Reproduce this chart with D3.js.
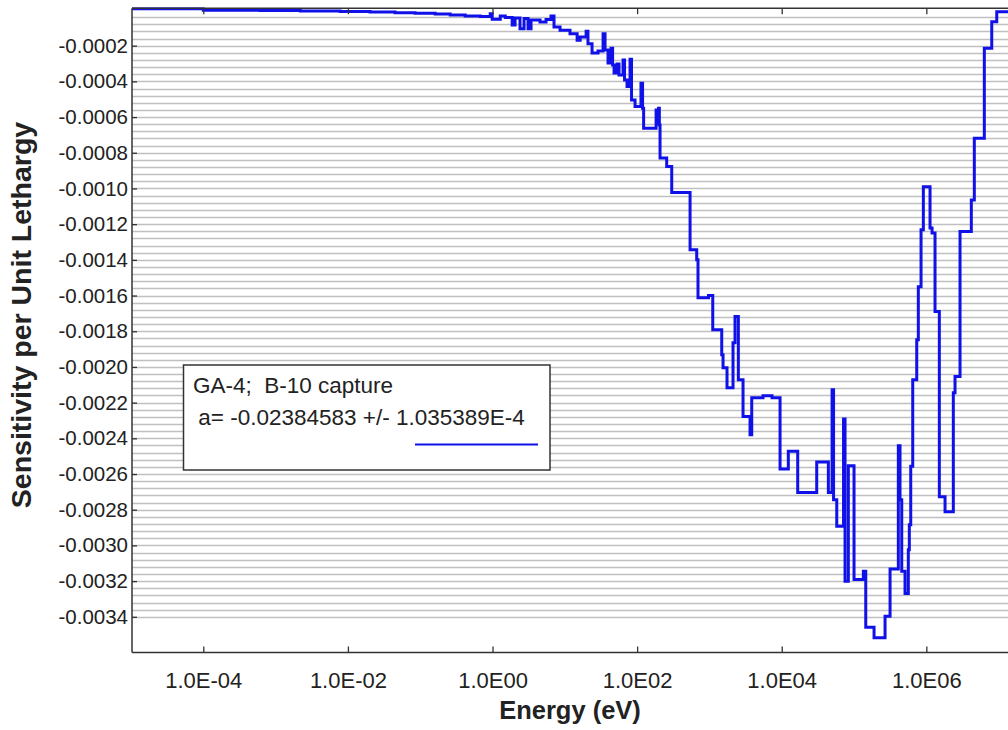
<!DOCTYPE html>
<html>
<head>
<meta charset="utf-8">
<script src="https://cdn.jsdelivr.net/npm/d3@7"></script>
<style>
  html, body { margin: 0; padding: 0; background: #fff; }
  svg { display: block; font-family: Arial, "Liberation Sans", sans-serif; }
</style>
</head>
<body>
<svg id="chart" width="1008" height="730"></svg>
<script>
// ---- data ----
const groupLowerEnergy = [
  1e-5, 1e-4, 6.1e-4, 2.2e-3, 7.8e-3, 0.0202, 0.0449, 0.085, 0.161, 0.26,
  0.419, 0.676, 0.93, 0.99, 1.28, 1.5, 1.87, 2.05, 2.4, 2.73,
  3.1, 3.41, 4.54, 5.5, 6.44, 7.09, 8.59, 11.8, 14.8, 16.3,
  19.7, 20.9, 23.8, 28.8, 33.8, 36, 39.6, 43.6, 45.8, 48,
  52.8, 56.2, 63.9, 67, 72.5, 79.8, 83.7, 93.6, 113, 119,
  123, 183, 189, 198, 203, 207.5, 256.5, 301, 540, 667,
  695, 972, 1112, 1480, 1543, 1751, 2120, 2259, 2512, 2917,
  3646, 3848, 5510, 7344, 9480, 12340, 16640, 30480, 44150, 49700,
  52100, 57700, 71600, 75100, 83400, 100000, 134600, 145300, 189200, 268600,
  315000, 410000, 432700, 457000, 507400, 563400, 581800, 608500, 648500, 736700,
  774800, 845000, 909200, 1.125e6, 1.2e6, 1.319e6, 1.513e6, 1.815e6, 2.362e6, 2.494e6,
  2.925e6, 4.19e6, 4.61e6, 6.34e6, 8.03e6, 9.42e6
];
const topEnergy = 2e7;
const sensitivity = [
  0.000007, -0.000002, -0.000003, -0.000006, -0.000008, -0.000011, -0.000015, -0.000018, -0.000022, -0.000028,
  -0.000034, -0.000036, -0.000021, -0.000052, -0.000034, -0.000042, -0.000084, -0.000045, -0.000105, -0.000048,
  -0.000105, -0.000056, -0.000067, -0.000053, -0.000034, -0.000095, -0.000114, -0.000133, -0.000170, -0.000151,
  -0.000119, -0.000189, -0.000241, -0.000230, -0.000133, -0.000224, -0.000297, -0.000214, -0.000308, -0.000353,
  -0.000302, -0.000364, -0.000280, -0.000392, -0.000429, -0.000276, -0.000504, -0.000541, -0.000410, -0.000550,
  -0.000662, -0.000560, -0.000638, -0.000550, -0.000644, -0.000830, -0.000877, -0.001023, -0.001344, -0.001400,
  -0.001613, -0.001600, -0.001792, -0.001932, -0.002004, -0.002116, -0.001864, -0.001717, -0.002072, -0.002277,
  -0.002380, -0.002172, -0.002161, -0.002172, -0.002572, -0.002473, -0.002703, -0.002532, -0.002704, -0.002128,
  -0.002744, -0.002893, -0.002292, -0.003201, -0.002553, -0.003191, -0.003145, -0.003458, -0.003518, -0.003397,
  -0.003132, -0.002441, -0.002744, -0.003145, -0.003270, -0.003024, -0.002884, -0.002557, -0.002072, -0.001848,
  -0.001551, -0.001232, -0.000991, -0.001221, -0.001249, -0.001689, -0.002727, -0.002811, -0.002144, -0.002053,
  -0.001241, -0.001064, -0.000718, -0.000214, -0.000066, -0.0000095
];
const xTickValues = [1e-4, 1e-2, 1e0, 1e2, 1e4, 1e6];
const xTickLabels = ["1.0E-04", "1.0E-02", "1.0E00", "1.0E02", "1.0E04", "1.0E06"];
const yTickValues = [-0.0002, -0.0004, -0.0006, -0.0008, -0.0010, -0.0012, -0.0014, -0.0016, -0.0018,
  -0.0020, -0.0022, -0.0024, -0.0026, -0.0028, -0.0030, -0.0032, -0.0034];
const gridStep = 0.00004;
const gridCount = 85;
const legendTitle = "GA-4;  B-10 capture";
const legendFit = " a= -0.02384583 +/- 1.035389E-4";
const xTitle = "Energy (eV)";
const yTitle = "Sensitivity per Unit Lethargy";

// ---- layout ----
const svg = d3.select("#chart");
const plotLeft = 132, plotTop = 8.2, plotBottom = 652.5, plotRight = 1008;

const x = d3.scaleLog().domain([1e-5, topEnergy]).range([131, 1020.4]);
const y = d3.scaleLinear().domain([-0.0036, 0.00001]).range([plotBottom, plotTop]);

svg.append("defs").append("clipPath").attr("id", "plotClip")
  .append("rect").attr("x", plotLeft).attr("y", plotTop - 1)
  .attr("width", plotRight - plotLeft).attr("height", plotBottom - plotTop + 1);

// gridlines
const gridVals = d3.range(1, gridCount + 1).map(i => -i * gridStep);
svg.append("g").selectAll("line").data(gridVals).join("line")
  .attr("x1", plotLeft).attr("x2", plotRight)
  .attr("y1", d => Math.round(y(d)) + 0.5).attr("y2", d => Math.round(y(d)) + 0.5)
  .attr("stroke", "#c0c0c0").attr("stroke-width", 1.4);

// data line
const pts = groupLowerEnergy.map((e, i) => [e, sensitivity[i]]);
pts.push([topEnergy, sensitivity[sensitivity.length - 1]]);
const line = d3.line().x(d => x(d[0])).y(d => y(d[1])).curve(d3.curveStepAfter);
svg.append("path").datum(pts)
  .attr("clip-path", "url(#plotClip)")
  .attr("fill", "none").attr("stroke", "#1010e8").attr("stroke-width", 3)
  .attr("stroke-linejoin", "miter")
  .attr("d", line);

// axes
const axisColor = "#333";
const gx = svg.append("g").attr("transform", `translate(0,${plotBottom})`)
  .call(d3.axisBottom(x).tickValues(xTickValues).tickFormat((d, i) => xTickLabels[i])
    .tickSize(-6).tickSizeOuter(0).tickPadding(20));
const gt = svg.append("g").attr("transform", `translate(0,${plotTop})`)
  .call(d3.axisTop(x).tickValues(xTickValues).tickFormat("").tickSize(-6).tickSizeOuter(0));
const gy = svg.append("g").attr("transform", `translate(${plotLeft},0)`)
  .call(d3.axisLeft(y).tickValues(yTickValues).tickFormat(d => d3.format(".4f")(d).replace("\u2212", "-"))
    .tickSize(-5).tickSizeOuter(0).tickPadding(4));

[gx, gt, gy].forEach(g => {
  g.select(".domain").attr("stroke", axisColor).attr("stroke-width", 1.5);
  g.selectAll(".tick line").attr("stroke", axisColor).attr("stroke-width", 1.3);
  g.selectAll("text").attr("fill", "#222").style("font-family", "Arial, 'Liberation Sans', sans-serif");
});
gx.selectAll("text").style("font-size", "22px");
gy.selectAll("text").style("font-size", "20.5px");
gx.select(".domain").attr("d", `M${plotLeft},0H${plotRight}`);
gt.select(".domain").attr("d", `M${plotLeft},0H${plotRight}`);
gy.select(".domain").attr("d", `M0,${plotTop}V${plotBottom}`);

// axis titles
svg.append("text").attr("x", 570).attr("y", 719).attr("text-anchor", "middle")
  .style("font-size", "25.5px").style("font-weight", "bold").attr("fill", "#222").text(xTitle);
svg.append("text").attr("transform", "translate(31,315) rotate(-90)").attr("text-anchor", "middle")
  .style("font-size", "28.5px").style("font-weight", "bold").attr("fill", "#222").text(yTitle);

// legend
const lg = svg.append("g");
lg.append("rect").attr("x", 183.5).attr("y", 365).attr("width", 366.5).attr("height", 105)
  .attr("fill", "#fff").attr("stroke", "#333").attr("stroke-width", 1.5);
lg.append("text").attr("x", 193).attr("y", 393).style("white-space", "pre")
  .style("font-size", "22.5px").attr("fill", "#222").text(legendTitle);
lg.append("text").attr("x", 192).attr("y", 425).style("white-space", "pre")
  .style("font-size", "22.5px").attr("fill", "#222").text(legendFit);
lg.append("line").attr("x1", 415).attr("x2", 538).attr("y1", 444.5).attr("y2", 444.5)
  .attr("stroke", "#1010e8").attr("stroke-width", 2);
</script>
</body>
</html>
